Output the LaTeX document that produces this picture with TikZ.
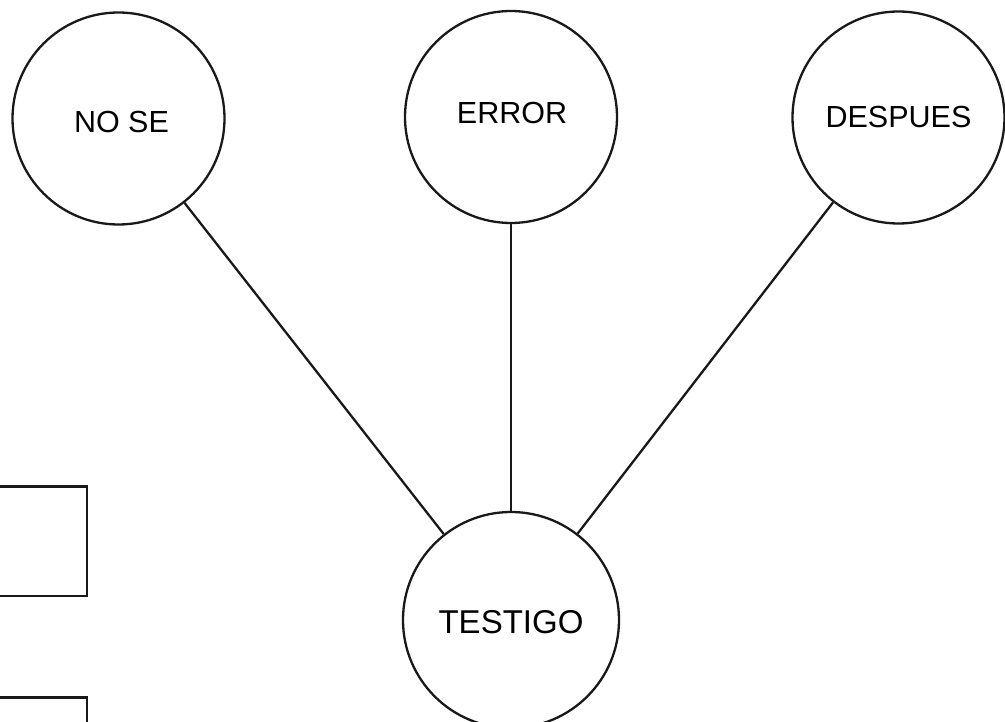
\documentclass[tikz,border=0pt]{standalone}
\usepackage{fontspec}
\setmainfont{Liberation Sans}
\newcommand{\placetext}[3]{\hspace*{#1}\raisebox{#2}[0pt][0pt]{#3}}
\begin{document}
\begin{tikzpicture}[x=1pt,y=-1pt,
  bubble/.style={draw=black!90, line width=2.3pt, circle, inner sep=0pt, minimum size=212pt, font=\fontsize{30.5}{36}\selectfont},
  bigbubble/.style={bubble, minimum size=216pt, font=\fontsize{33}{40}\selectfont},
  link/.style={draw=black!90, line width=2.3pt},
  box/.style={draw=black!90, line width=2.3pt}]
\useasboundingbox (0,0) rectangle (1005,722);
\node[bubble] (nose) at (118.5,118.5) {\placetext{6pt}{-14.4pt}{NO SE}};
\node[bubble] (error) at (511,117) {\placetext{2pt}{-6.9pt}{ERROR}};
\node[bubble] (despues) at (898.5,117.5) {\placetext{0pt}{-10.4pt}{DESPUES}};
\node[bigbubble] (testigo) at (511,620) {\placetext{0pt}{-13.8pt}{TESTIGO}};
\draw[link] (nose) -- (testigo);
\draw[link] (error) -- (testigo);
\draw[link] (despues) -- (testigo);
\draw[box] (-5,486.5) -- (87,486.5) -- (87,596) -- (-5,596);
\draw[box] (-5,697.5) -- (87,697.5) -- (87,730);
\end{tikzpicture}
\end{document}
